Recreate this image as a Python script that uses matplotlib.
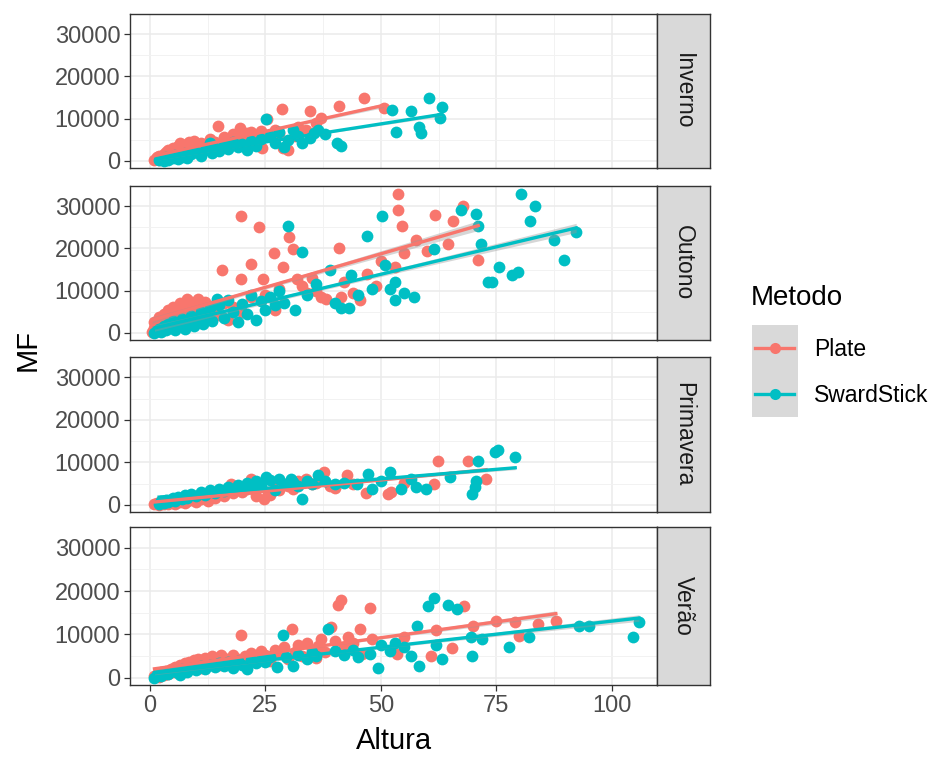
import numpy as np
import matplotlib.pyplot as plt
from matplotlib.patches import Rectangle
from matplotlib.lines import Line2D

plt.rcParams['font.family'] = ['Liberation Sans', 'DejaVu Sans']

seasons = ['Inverno', 'Outono', 'Primavera', 'Verão']
metodos = ['Plate', 'SwardStick']
cores = {'Plate': '#F8766D', 'SwardStick': '#00BFC4'}

# Inverno
inv_plate_x = [1, 1.5, 2, 2, 2.5, 3, 3, 3.5, 4, 4, 4.5, 5, 5, 5.5, 6, 6, 6.5, 7, 7.5, 8, 8, 8.5, 9, 9.5,
               10, 10.5, 11, 12, 13, 14, 14.8, 16, 17, 18, 19.5, 19.6, 20, 21, 22, 22.5, 24, 24.3, 25.4,
               26, 27, 28, 28.7, 28.9, 30, 31.4, 32, 33.7, 34.7, 36, 37, 41, 46.4, 50.6]
inv_plate_y = [200, 800, 300, 1200, 600, 1500, 400, 2000, 900, 2600, 1700, 1200, 3000, 2200, 3600, 1800,
               4200, 2700, 3300, 3900, 2000, 4500, 3000, 4600, 3800, 2500, 4300, 3400, 5200, 4500, 8200,
               5600, 4800, 6300, 7800, 7000, 5000, 6600, 6800, 5400, 7000, 3000, 9800, 6000, 7300, 6600,
               12200, 3000, 2600, 5800, 8000, 7400, 11800, 9000, 10200, 12900, 14900, 12600]
inv_sward_x = [2, 2.5, 3, 3.5, 4, 5, 5.5, 6, 7, 7.5, 8, 9, 10, 11, 12, 13, 13.5, 14, 15, 16, 17, 18, 19,
               20, 21, 22, 23, 24, 25.1, 26, 27, 28, 29, 30, 31, 32, 33, 34.7, 35.5, 36.4, 38, 40.6, 41.4,
               52.5, 53.3, 56.5, 58.2, 58.6, 60.5, 62.8, 63.2]
inv_sward_y = [100, 500, 0, 900, 300, 700, 1300, 400, 1000, 1800, 600, 1500, 2200, 1200, 2600, 4200, 1800,
               3000, 2400, 3800, 2800, 4400, 3300, 3900, 2600, 4800, 3600, 5200, 9800, 5800, 4300, 6800,
               3200, 5000, 7200, 6000, 4200, 5400, 6500, 7400, 6300, 4200, 3400, 12100, 6800, 11700, 7900,
               6600, 14900, 10200, 12700]

# Outono
out_plate_x = [0.5, 1, 1, 1.5, 2, 2, 2.5, 3, 3, 3.5, 4, 4, 4.5, 5, 5, 5.5, 6, 6.5, 7, 7, 7.5, 8, 8.5, 9,
               9.5, 10, 10.5, 11, 12, 12.5, 13, 14, 15, 15.6, 16, 17, 18, 19.7, 19.7, 20, 22, 22, 23.7,
               24.5, 25, 26.8, 27.2, 28, 28.9, 30.1, 31, 31.8, 33, 34, 35, 36, 37, 38.1, 40.9, 41.4, 42,
               44, 45.6, 47, 48.9, 50, 53, 53.8, 53.8, 54.6, 55, 57.7, 60, 61.7, 64.6, 65.7, 67.9, 71.1]
out_plate_y = [300, 1200, 2500, 600, 1800, 3800, 900, 2600, 4500, 1500, 3400, 5500, 2200, 4200, 6200, 3000,
               5000, 7000, 3800, 6000, 4600, 8100, 5600, 7300, 4200, 6500, 8000, 5200, 7200, 3500, 6300,
               5500, 4200, 14800, 7000, 3000, 6200, 12800, 27800, 5000, 16400, 8500, 25200, 12700, 9000,
               19000, 5400, 10500, 15600, 22700, 19900, 12800, 11000, 9500, 13000, 10000, 8500, 8100,
               20100, 8500, 12000, 9500, 7700, 14000, 11200, 17000, 15600, 32900, 29000, 25400, 19000,
               21900, 19500, 28000, 21100, 26600, 30000, 17200]
out_sward_x = [1, 1.5, 2, 2.5, 3, 3.5, 4, 4.5, 5, 5.5, 6, 7, 7.5, 8, 9, 9.5, 10, 11, 11.5, 12, 13, 13.5,
               14.5, 15, 16, 17, 18, 19, 20, 21, 22, 23, 24, 25, 26, 27, 28, 29, 30, 31.5, 32.9, 34, 36,
               38.9, 40, 41.3, 43.1, 43.5, 45, 47.1, 48, 50.2, 51, 51.9, 53, 53.1, 55, 57.2, 61.5, 67.4,
               70.7, 71.1, 71.6, 73.2, 74, 75.6, 78.4, 79.7, 80.3, 82.3, 83.4, 87.4, 89.7, 92.3]
out_sward_y = [0, 500, 1000, 200, 1500, 700, 2200, 1200, 2800, 600, 1800, 3300, 1000, 2500, 4000, 1500,
               3000, 5000, 2200, 3800, 6000, 2800, 8100, 6500, 3500, 7800, 5000, 2500, 6800, 4500, 9000,
               3000, 7500, 5500, 8500, 6500, 10000, 7000, 25400, 5400, 19100, 9000, 11500, 14800, 7000,
               5800, 5800, 13600, 9000, 22900, 10500, 27800, 16000, 10500, 7700, 12000, 9500, 8500, 19900,
               29000, 28200, 25300, 21100, 12000, 12000, 15600, 13800, 14400, 32900, 26600, 30000, 21900,
               17200, 23800]

# Primavera
pri_plate_x = [1, 1.5, 2, 2.5, 3, 3.5, 4, 4.5, 5, 5.5, 6, 6.5, 7, 7.5, 8, 8.5, 9, 10, 10.5, 11, 12, 12.5,
               13, 14, 15, 16, 17, 17.6, 18, 19, 20, 21, 21.8, 22.5, 23, 24.7, 25.5, 26, 27, 28, 29, 30,
               31, 32, 33.9, 35, 36, 37.7, 39, 40, 42.7, 44, 46.9, 51.5, 52.3, 55, 61.5, 62.3, 68.9, 72.8]
pri_plate_y = [100, 400, 0, 600, 300, 800, 200, 1000, 500, 300, 1200, 700, 1400, 400, 900, 1600, 1100, 700,
               1800, 1300, 2000, 900, 2400, 1500, 2800, 2000, 3300, 4900, 2700, 4200, 3000, 3800, 6100,
               3400, 2000, 1400, 3000, 2200, 4000, 3500, 5000, 4400, 3600, 5600, 6100, 4800, 5200, 7700,
               4500, 4000, 6900, 5000, 2800, 2600, 3000, 5200, 4900, 10400, 10400, 6100]
pri_sward_x = [2, 2.5, 3, 3.5, 4, 5, 5.5, 6, 7, 7.5, 8, 9, 10, 11, 12, 13, 14, 15, 16, 17, 18, 19, 20, 21,
               22.2, 23, 24, 25.1, 26, 27, 28, 29, 30.5, 31, 32, 33, 34, 35, 36.4, 38, 40, 42, 44.8, 47.3,
               48.1, 50, 51.9, 54.4, 56.5, 57.7, 59.8, 65, 69.7, 70.5, 70.7, 71.1, 74.7, 75.3, 79.1]
pri_sward_y = [300, 800, 500, 1200, 700, 1500, 1000, 1900, 1300, 2300, 1600, 2600, 2000, 3000, 2400, 3500,
               2800, 3800, 3200, 4300, 3600, 4700, 3900, 5200, 4100, 5500, 4500, 6500, 5800, 3500, 6000,
               4800, 6100, 5300, 4500, 1400, 5600, 4800, 6900, 5500, 4800, 5200, 4900, 7300, 3800, 5500,
               7700, 3800, 6100, 4200, 3800, 6500, 2600, 4200, 5700, 10400, 12400, 12800, 11200]

# Verao
ver_plate_x = [1, 1.5, 2, 2.5, 3, 3.5, 4, 4.5, 5, 5.5, 6, 6.5, 7, 7.5, 8, 8.5, 9, 9.5, 10, 10.5, 11, 11.5,
               12, 13, 13.5, 14, 15, 15.5, 16, 17, 18, 19, 19.7, 20.5, 21, 22, 23, 24, 25, 26, 27, 28, 29,
               30, 30.7, 31.5, 32, 33, 34, 35, 36, 36.5, 37, 38, 39.2, 40, 40.8, 41.4, 42, 43, 44, 45.6,
               46, 47.7, 48, 53.6, 55, 60.9, 62, 65.5, 68, 70, 75, 79.1, 79.9, 84.1, 87.9]
ver_plate_y = [300, 800, 200, 1200, 600, 1500, 900, 2000, 1300, 2500, 1700, 2900, 2100, 3300, 1500, 3600,
               2500, 4000, 3000, 4300, 2200, 3700, 4600, 3300, 5000, 4000, 3000, 5200, 4500, 3800, 5300,
               4200, 9900, 5000, 3500, 5800, 4500, 6200, 5200, 3800, 6500, 5500, 7000, 4200, 11200, 6000,
               7600, 5000, 8000, 6500, 4500, 7200, 9000, 6000, 11600, 8500, 16800, 17900, 7000, 9500,
               8000, 11200, 5500, 16100, 9000, 5400, 9500, 5000, 11000, 6900, 16600, 12000, 13000, 12800,
               9700, 12400, 13000]
ver_sward_x = [1, 1.5, 2, 2.5, 3, 4, 5, 6, 6.5, 7, 8, 9, 10, 11, 12, 13, 14, 15, 16, 17, 18, 19, 20, 21,
               22, 23, 24, 25, 26, 27.6, 28.9, 29.5, 30.9, 32, 34, 35, 36, 38.5, 40, 42, 44, 45, 47.7,
               49.4, 50, 52, 53, 55, 56.5, 57.8, 58.2, 60.3, 61.5, 62, 63.2, 64.6, 66.4, 69.5, 69.7, 72,
               77.8, 82, 92.9, 95, 104.6, 105.9]
ver_sward_y = [0, 500, 1000, 300, 1300, 800, 1600, 1100, 600, 2000, 1400, 2300, 1700, 2600, 2000, 3000,
               2400, 3300, 2700, 3600, 2200, 3800, 3000, 2000, 4000, 3300, 4300, 3500, 4800, 2500, 9900,
               4800, 2800, 5200, 4200, 6000, 5000, 11200, 6200, 5200, 6500, 4800, 5400, 2300, 7500, 6200,
               8000, 7000, 5000, 11900, 2800, 16600, 18300, 7500, 4200, 16800, 15800, 9500, 5100, 9000,
               7100, 9300, 12000, 12000, 9500, 12800]

dados = {
    'Inverno': {'Plate': (inv_plate_x, inv_plate_y), 'SwardStick': (inv_sward_x, inv_sward_y)},
    'Outono': {'Plate': (out_plate_x, out_plate_y), 'SwardStick': (out_sward_x, out_sward_y)},
    'Primavera': {'Plate': (pri_plate_x, pri_plate_y), 'SwardStick': (pri_sward_x, pri_sward_y)},
    'Verão': {'Plate': (ver_plate_x, ver_plate_y), 'SwardStick': (ver_sward_x, ver_sward_y)},
}


def suaviza(x, y, grau=1, k=0.8):
    # ajuste tipo geom_smooth(method = "lm") com faixa de erro
    x = np.asarray(x, float)
    y = np.asarray(y, float)
    X = np.vander(x, grau + 1)
    beta, *_ = np.linalg.lstsq(X, y, rcond=None)
    res = y - X @ beta
    s2 = res @ res / (len(x) - grau - 1)
    xg = np.linspace(x.min(), x.max(), 80)
    Xg = np.vander(xg, grau + 1)
    cov = s2 * np.linalg.inv(X.T @ X)
    se = np.sqrt(np.einsum('ij,jk,ik->i', Xg, cov, Xg))
    yg = Xg @ beta
    return xg, yg, yg - k * se, yg + k * se


W, H = 939, 758
fig = plt.figure(figsize=(W / 100, H / 100), dpi=100)


def fx(px):
    return px / W


def fy(py):
    return 1 - py / H


paineis = [(14, 168), (186, 340), (357, 512), (527, 685)]
x0, x1, xs = 130, 657, 710

for i, (s, (top, bot)) in enumerate(zip(seasons, paineis)):
    ax = fig.add_axes([fx(x0), fy(bot), fx(x1 - x0), (bot - top) / H])
    for m in metodos:
        x, y = dados[s][m]
        ax.scatter(x, y, s=72, color=cores[m], linewidths=0, zorder=3)
    for m in metodos:
        x, y = dados[s][m]
        xg, yg, lo, hi = suaviza(x, y)
        ax.fill_between(xg, lo, hi, color='#999999', alpha=0.4, linewidth=0, zorder=4)
        ax.plot(xg, yg, color=cores[m], lw=2.4, zorder=5)
    ax.set_xlim(-4.3, 109.8)
    ax.set_ylim(-1700, 34800)
    ax.set_xticks([0, 25, 50, 75, 100])
    ax.set_xticks([12.5, 37.5, 62.5, 87.5], minor=True)
    ax.set_yticks([0, 10000, 20000, 30000])
    ax.set_yticks([5000, 15000, 25000], minor=True)
    ax.grid(True, which='major', color='#EBEBEB', lw=1.1, zorder=0)
    ax.grid(True, which='minor', color='#F2F2F2', lw=0.7, zorder=0)
    ax.set_axisbelow(True)
    ax.tick_params(which='minor', length=0)
    ax.tick_params(which='major', length=4, width=0.9, color='#333333',
                   labelsize=17, labelcolor='#4D4D4D', pad=3)
    for sp in ax.spines.values():
        sp.set_color('#333333')
        sp.set_linewidth(1.0)
    if i < 3:
        ax.tick_params(axis='x', length=0, labelbottom=False)

    # faixa lateral
    sa = fig.add_axes([fx(x1), fy(bot), fx(xs - x1), (bot - top) / H])
    sa.set_facecolor('#D9D9D9')
    sa.set_xticks([])
    sa.set_yticks([])
    for sp in sa.spines.values():
        sp.set_color('#333333')
        sp.set_linewidth(1.0)
    sa.text(0.5, 0.5, s, rotation=-90, ha='center', va='center', fontsize=16.5,
            color='#1A1A1A', transform=sa.transAxes)

fig.text(fx(394), fy(741), 'Altura', ha='center', va='center', fontsize=21, color='black')
fig.text(fx(28), fy(350), 'MF', ha='center', va='center', rotation=90, fontsize=21, color='black')

# legenda
fig.text(fx(751), fy(298), 'Metodo', ha='left', va='center', fontsize=20, color='black')
fig.add_artist(Rectangle((fx(752), fy(417)), fx(46), (417 - 325) / H,
                         facecolor='#D9D9D9', edgecolor='none', transform=fig.transFigure))
for k, m in enumerate(metodos):
    yc = 348 + k * 46
    fig.add_artist(Line2D([fx(755), fx(794)], [fy(yc), fy(yc)], color=cores[m], lw=2.4,
                          transform=fig.transFigure))
    fig.add_artist(Line2D([fx(774.5)], [fy(yc)], color=cores[m], marker='o', ms=8,
                          mec='none', transform=fig.transFigure))
    fig.text(fx(814), fy(yc + 1), m, ha='left', va='center', fontsize=16.5, color='black')

fig.savefig('out.png', dpi=100)
